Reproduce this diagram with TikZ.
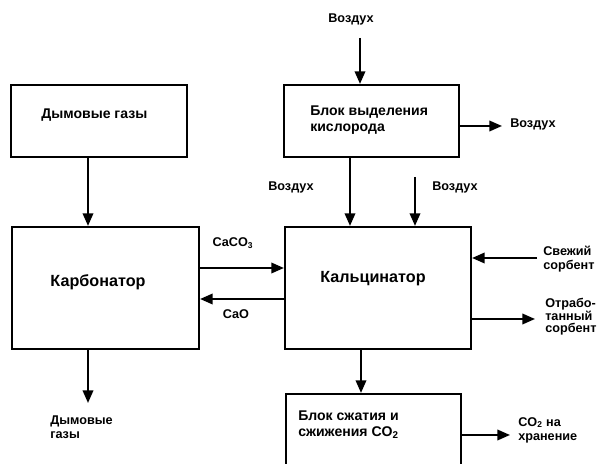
\documentclass[tikz,border=0pt]{standalone}
\usepackage{fontspec}
\setmainfont{Liberation Sans}
\usetikzlibrary{arrows.meta}
\tikzset{
    flow/.style = {-{Triangle[length=9pt,width=7.5pt]}, line width=1.4pt},
    unit/.style = {draw, line width=1.5pt, inner sep=0pt},
    lbl/.style = {font=\bfseries\fontsize{9}{10}\selectfont, align=left, inner sep=0pt},
    boxtxt/.style = {font=\bfseries\fontsize{10}{11.5}\selectfont, align=left, inner sep=0pt},
    maintxt/.style = {font=\bfseries\fontsize{11.5}{13}\selectfont, inner sep=0pt}
}
\begin{document}
\begin{tikzpicture}[x=0.025cm, y=-0.025cm]
        \useasboundingbox (0,0) rectangle (600,464);
        \clip (0,0) rectangle (600,464);
        % units
        \node[unit, minimum width=4.4cm, minimum height=1.8cm] (smoke) at (99,121) {};
        \node[unit, minimum width=4.675cm, minimum height=3.05cm] (carb) at (105.5,288) {};
        \node[unit, minimum width=4.375cm, minimum height=1.8cm] (oxy) at (371.5,121) {};
        \node[unit, minimum width=4.65cm, minimum height=3.05cm] (calc) at (378,288) {};
        \node[unit, minimum width=4.375cm, minimum height=2cm] (comp) at (373.5,434) {};
        \node[boxtxt, anchor=west] (smoketxt) at (41,115) {Дымовые газы};
        \node[maintxt] (carbtxt) at (98,282) {Карбонатор};
        \node[boxtxt, anchor=west] (oxytxt) at (310,120) {Блок выделения\\кислорода};
        \node[maintxt] (calctxt) at (373,279) {Кальцинатор};
        \node[boxtxt, anchor=west] (comptxt) at (298,425) {Блок сжатия и\\сжижения CO\textsubscript{2}};
        % labels
        \node[lbl] (airtop) at (351,19) {Воздух};
        \node[lbl, anchor=west] (airright) at (510,124) {Воздух};
        \node[lbl] (airleft) at (291,187) {Воздух};
        \node[lbl, anchor=west] (airmid) at (432,187) {Воздух};
        \node[lbl, anchor=west] (gaslbl) at (50,427) {Дымовые\\газы};
        \node[lbl] (caco3) at (233,243) {CaCO\textsubscript{3}};
        \node[lbl] (cao) at (236,314) {CaO};
        \node[lbl, anchor=west] (freshlbl) at (543,259) {Свежий\\сорбент};
        \node[lbl, anchor=west, font=\bfseries\fontsize{9}{9}\selectfont] (spentlbl) at (545,317) {Отрабо-\\танный\\сорбент};
        \node[lbl, anchor=west] (storelbl) at (518,430) {CO\textsubscript{2} на\\хранение};
        % free ends
        \coordinate (airin) at (360,38);
        \coordinate (airout) at (502,126);
        \coordinate (air2) at (415,177);
        \coordinate (gasout) at (88,403);
        \coordinate (fresh) at (537,258);
        \coordinate (spent) at (535,319);
        \coordinate (store) at (510,435);
        % flows
        \draw[flow] (airin) -- (oxy.north -| airin);
        \draw[flow] (oxy.east |- airout) -- (airout);
        \draw[flow] ([xshift=-0.5375cm]oxy.south) -- ([xshift=-0.5375cm]oxy.south |- calc.north);
        \draw[flow] (air2) -- (calc.north -| air2);
        \draw[flow] (smoke.south -| gasout) -- (carb.north -| gasout);
        \draw[flow] (carb.south -| gasout) -- (gasout);
        \draw[flow] ([yshift=0.5cm]carb.east) -- ([yshift=0.5cm]carb.east -| calc.west);
        \draw[flow] ([yshift=-0.275cm]carb.east -| calc.west) -- ([yshift=-0.275cm]carb.east);
        \draw[flow] (fresh) -- (fresh -| calc.east);
        \draw[flow] (spent -| calc.east) -- (spent);
        \draw[flow] ([xshift=-0.425cm]calc.south) -- ([xshift=-0.425cm]calc.south |- comp.north);
        \draw[flow] (store -| comp.east) -- (store);
    \end{tikzpicture}
\end{document}
